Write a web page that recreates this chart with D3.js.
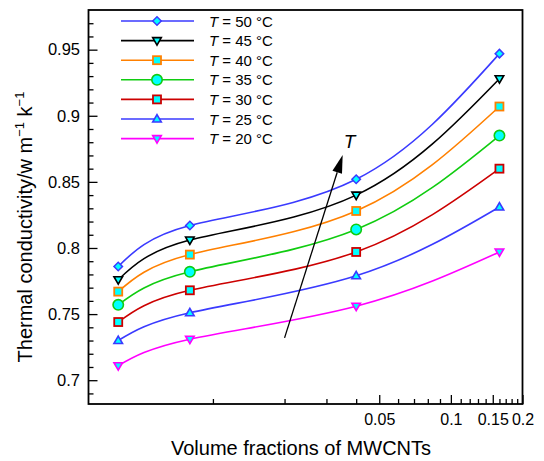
<!DOCTYPE html>
<html>
<head>
<meta charset="utf-8">
<script src="https://cdn.jsdelivr.net/npm/d3@7"></script>
<style>
  html, body { margin: 0; padding: 0; background: #fff; }
  svg { display: block; font-family: "Liberation Sans", Arial, Helvetica, sans-serif; }
</style>
</head>
<body>
<div id="chart"></div>
<script>
// ---- data ----
const xValues = [0.004, 0.008, 0.04, 0.16];
const temps = [50, 45, 40, 35, 30, 25, 20];
const k50 = [0.786, 0.817, 0.852, 0.947];
const k45 = [0.776, 0.806, 0.840, 0.928];
const k40 = [0.767, 0.795, 0.828, 0.907];
const k35 = [0.757, 0.782, 0.814, 0.885];
const k30 = [0.744, 0.768, 0.797, 0.860];
const k25 = [0.730, 0.751, 0.779, 0.831];
const k20 = [0.711, 0.731, 0.756, 0.797];
const seriesValues = [k50, k45, k40, k35, k30, k25, k20];
const seriesColors = ["#3a3aff", "#000000", "#ff8000", "#10cc10", "#cc0000", "#3a3aff", "#ff00ff"];
const seriesShapes = ["diamond", "triDown", "square", "circle", "square", "triUp", "triDown"];
const xTickValues = [0.05, 0.1, 0.15, 0.2];
const xTickLabels = ["0.05", "0.1", "0.15", "0.2"];
const xMinorTicks = [0.01,0.02,0.03,0.04,0.06,0.07,0.08,0.09,0.11,0.12,0.13,0.14,0.16,0.17,0.18,0.19];
const yTickValues = [0.7, 0.75, 0.8, 0.85, 0.9, 0.95];
const yTickLabels = ["0.7", "0.75", "0.8", "0.85", "0.9", "0.95"];
const yMinorTicks = [0.69,0.71,0.72,0.73,0.74,0.76,0.77,0.78,0.79,0.81,0.82,0.83,0.84,0.86,0.87,0.88,0.89,0.91,0.92,0.93,0.94,0.96,0.97];
const arrowFrom = [0.02, 0.732];
const arrowTo = [0.0351, 0.8703];
const arrowLabelPos = [0.0375, 0.876];

// ---- layout ----
const W = 544, H = 461;
const x = d3.scaleLog().domain([0.003, 0.2]).range([88.5, 522.5]);
const y = d3.scaleLinear().domain([0.682, 0.98]).range([404, 10]);

const svg = d3.select("#chart").append("svg").attr("width", W).attr("height", H);

// axes (ticks inward)
const xAxisG = svg.append("g").attr("transform", `translate(0,${y.range()[0]})`);
xAxisG.call(d3.axisBottom(x).tickValues(xTickValues)
  .tickFormat((d, i) => xTickLabels[i]).tickSizeInner(-9).tickSizeOuter(0).tickPadding(9.5));
xAxisG.append("g").call(d3.axisBottom(x).tickValues(xMinorTicks).tickFormat("").tickSizeInner(-5).tickSizeOuter(0));

const yAxisG = svg.append("g").attr("transform", `translate(${x.range()[0]},0)`);
yAxisG.call(d3.axisLeft(y).tickValues(yTickValues)
  .tickFormat((d, i) => yTickLabels[i]).tickSizeInner(-9).tickSizeOuter(0).tickPadding(8.5));
yAxisG.append("g").call(d3.axisLeft(y).tickValues(yMinorTicks).tickFormat("").tickSizeInner(-5).tickSizeOuter(0));

svg.selectAll(".domain").remove();
svg.selectAll(".tick line").attr("stroke", "#000").attr("stroke-width", 1.3);
svg.selectAll(".tick text").attr("fill", "#000")
  .attr("font-family", '"Liberation Sans", Arial, Helvetica, sans-serif');
yAxisG.selectAll(".tick text").attr("font-size", 16.5);
xAxisG.selectAll(".tick text").attr("font-size", 16);

// frame
svg.append("rect")
  .attr("x", x.range()[0]).attr("y", y.range()[1])
  .attr("width", x.range()[1] - x.range()[0]).attr("height", y.range()[0] - y.range()[1])
  .attr("fill", "none").attr("stroke", "#000").attr("stroke-width", 1.8);

// axis titles
svg.append("text").attr("x", 301).attr("y", 455)
  .attr("text-anchor", "middle").attr("font-size", 20).text("Volume fractions of MWCNTs");

const yt = svg.append("text").attr("transform", "translate(32,227) rotate(-90)")
  .attr("text-anchor", "middle").attr("font-size", 20);
yt.append("tspan").text("Thermal conductivity/w m");
yt.append("tspan").attr("font-size", 13).attr("dy", -8).text("\u22121");
yt.append("tspan").attr("dy", 8).text(" k");
yt.append("tspan").attr("font-size", 13).attr("dy", -8).text("\u22121");

// marker helper
function drawMarker(g, shape, color, cx, cy) {
  const fill = "#00ffff";
  if (shape === "circle") {
    g.append("circle").attr("cx", cx).attr("cy", cy).attr("r", 5.2)
      .attr("fill", fill).attr("stroke", color).attr("stroke-width", 1.6);
  } else if (shape === "square") {
    g.append("rect").attr("x", cx - 4).attr("y", cy - 4).attr("width", 8).attr("height", 8)
      .attr("fill", fill).attr("stroke", color).attr("stroke-width", 1.8);
  } else if (shape === "diamond") {
    g.append("path").attr("d", d3.symbol(d3.symbolSquare, 36)())
      .attr("transform", `translate(${cx},${cy}) rotate(45)`)
      .attr("fill", fill).attr("stroke", color).attr("stroke-width", 1.5);
  } else {
    const rot = shape === "triDown" ? 180 : 0;
    g.append("path").attr("d", d3.symbol(d3.symbolTriangle, 32)())
      .attr("transform", `translate(${cx},${cy + (rot ? -0.5 : 0.5)}) rotate(${rot})`)
      .attr("fill", fill).attr("stroke", color).attr("stroke-width", 1.6);
  }
}

// series
const line = d3.line().x(d => x(d[0])).y(d => y(d[1])).curve(d3.curveNatural);
seriesValues.forEach((vals, i) => {
  const pts = xValues.map((xv, j) => [xv, vals[j]]);
  svg.append("path").attr("d", line(pts)).attr("fill", "none")
    .attr("stroke", seriesColors[i]).attr("stroke-width", 1.6);
});
seriesValues.forEach((vals, i) => {
  const g = svg.append("g");
  xValues.forEach((xv, j) => drawMarker(g, seriesShapes[i], seriesColors[i], x(xv), y(vals[j])));
});

// legend
const lg = svg.append("g");
temps.forEach((t, i) => {
  const ly = 21 + i * 19.6;
  lg.append("line").attr("x1", 121).attr("x2", 194).attr("y1", ly).attr("y2", ly)
    .attr("stroke", seriesColors[i]).attr("stroke-width", 1.6);
  drawMarker(lg, seriesShapes[i], seriesColors[i], 157, ly);
  const tx = lg.append("text").attr("x", 209).attr("y", ly + 5.5).attr("font-size", 15);
  tx.append("tspan").attr("font-style", "italic").text("T");
  tx.append("tspan").text(` = ${t} \u00B0C`);
});

// arrow annotation
const ax0 = x(arrowFrom[0]), ay0 = y(arrowFrom[1]);
const ax1 = x(arrowTo[0]), ay1 = y(arrowTo[1]);
const ang = Math.atan2(ay1 - ay0, ax1 - ax0);
const hl = 18, hw = 5;
const bx = ax1 - hl * Math.cos(ang), by = ay1 - hl * Math.sin(ang);
svg.append("line").attr("x1", ax0).attr("y1", ay0).attr("x2", bx).attr("y2", by)
  .attr("stroke", "#000").attr("stroke-width", 1.3);
svg.append("path").attr("d", d3.line()([
  [ax1, ay1],
  [bx + hw * Math.sin(ang), by - hw * Math.cos(ang)],
  [bx - hw * Math.sin(ang), by + hw * Math.cos(ang)]
]) + "Z").attr("fill", "#000");
svg.append("text").attr("x", x(arrowLabelPos[0])).attr("y", y(arrowLabelPos[1]))
  .attr("text-anchor", "middle").attr("font-size", 19).attr("font-style", "italic").text("T");
</script>
</body>
</html>
